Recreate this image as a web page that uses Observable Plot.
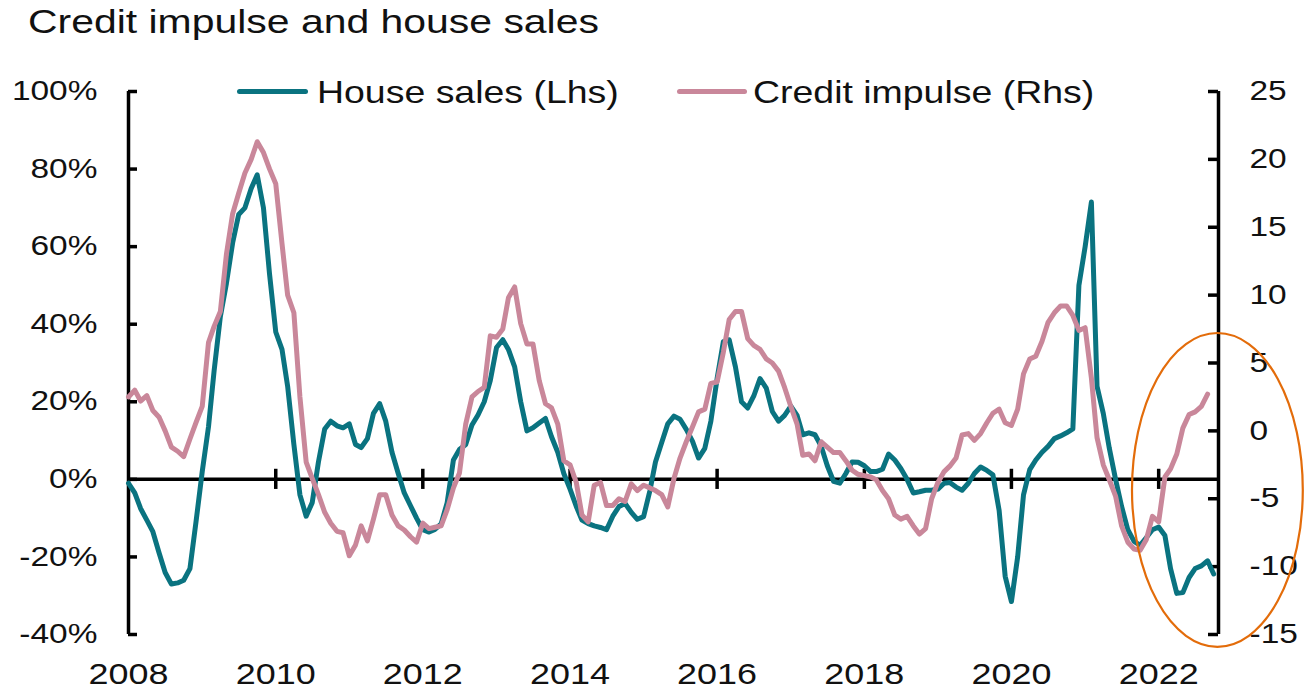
<!DOCTYPE html>
<html>
<head>
<meta charset="utf-8">
<script src="https://cdn.jsdelivr.net/npm/d3@7"></script>
<script src="https://cdn.jsdelivr.net/npm/@observablehq/plot@0.6"></script>
<style>
  body { margin: 0; background: #fff; }
  #wrap { position: relative; width: 1305px; height: 691px; overflow: hidden; font-family: "Liberation Sans", Arial, sans-serif; color: #111; }
  #title { position: absolute; left: 28px; top: 5px; font-size: 33px; line-height: 1; white-space: nowrap; transform: scaleX(1.24); transform-origin: 0 0; }
  #chart { position: absolute; left: 0; top: 45px; }
  .sw { position: absolute; height: 5px; border-radius: 3px; }
  .lt { position: absolute; font-size: 32px; line-height: 1; white-space: nowrap; transform: scaleX(1.17); transform-origin: 0 0; }
</style>
</head>
<body>
<div id="wrap">
  <div id="title">Credit impulse and house sales</div>
  <div id="chart"></div>
  <div class="sw" id="sw1" style="left:237px; top:89px; width:71px;"></div>
  <div class="lt" id="lt1" style="left:317px; top:76px;"></div>
  <div class="sw" id="sw2" style="left:677px; top:89px; width:70px;"></div>
  <div class="lt" id="lt2" style="left:753px; top:76px;"></div>
</div>
<script>
// ---- data (monthly, from Jan 2008) ----
const startYear = 2008;
const seriesNames = ["House sales (Lhs)", "Credit impulse (Rhs)"];
const seriesColors = ["#0a7380", "#c9879a"];

// House sales, % (left axis)
const houseSales = [
  -1,-3.5,-7.5,-10.5,-13.5,-19,-24,-27,-26.7,-26,
  -23,-11,2,13.5,28,42,50.5,61,68.3,70,
  75,78.5,70,53,38,33.5,24,9,-4,-9.5,
  -6,4.5,13,15,13.8,13.3,14.3,9,8.2,10.5,
  17,19.5,15,7,1.5,-3.5,-6.8,-10,-13,-13.6,
  -12.9,-11.5,-6,5,7.7,9,14,16.6,20,25.5,
  34,36,33.5,29,20,12.5,13.3,14.5,15.7,11,
  7,1.5,-2.5,-7,-10.5,-11.4,-12,-12.4,-13,-9.5,
  -7,-6.2,-8.5,-10.3,-9.6,-3,4.5,9.5,14.3,16.3,
  15.5,12.9,9.8,5.5,8,15,26,35.5,36,29,
  20,18.4,21.5,26,23.5,17.5,15,16.5,18.9,16.5,
  11.5,12,11.5,8.5,3.5,-0.5,-1,1.5,4.5,4.4,
  3.5,2,2,2.6,6.5,5,2.8,0,-3.5,-3.2,
  -2.8,-2.8,-2.5,-1,-0.8,-2,-2.8,-1,1.5,3.2,
  2.3,1.2,-8,-25,-31.5,-20,-4,2.5,5,7,
  8.5,10.5,11.2,12,13,50,60,71.5,24,17,
  8,0,-7,-13,-16,-17,-15,-13,-12.3,-14.5,
  -23,-29.4,-29.2,-25.3,-23,-22.3,-21,-24.4
];

// Credit impulse (right axis units)
const creditImpulse = [
  2.5,3.0,2.2,2.6,1.5,1.0,0,-1.2,-1.5,-1.9,
  -0.6,0.6,1.8,6.5,7.7,8.8,13,16,17.5,19,
  20,21.3,20.5,19.3,18.2,13.8,10,8.7,2.5,-2.3,
  -3.5,-4.7,-6,-6.8,-7.4,-7.5,-9.2,-8.4,-7,-8.1,
  -6.5,-4.7,-4.7,-6.2,-7,-7.3,-7.8,-8.2,-6.8,-7.2,
  -7.1,-7,-5.8,-4.2,-3.1,0.5,2.5,2.9,3.2,7,
  6.9,7.5,9.8,10.6,7.9,6.4,6.4,3.7,2,1.7,
  0.5,-2.2,-2.5,-3.8,-6.2,-6.7,-4,-3.8,-5.5,-5.5,
  -5,-5.2,-3.9,-4.4,-4,-4.2,-4.4,-4.7,-5.6,-3.5,
  -2,-0.8,0.3,1.4,1.6,3.5,3.6,5.8,8.2,8.8,
  8.8,6.8,6.3,6,5.3,5,4.4,3.2,1.8,0.5,
  -1.8,-1.7,-2.2,-0.8,-1.2,-1.6,-1.6,-2.2,-2.9,-3.2,
  -3.3,-3.4,-3.6,-4.4,-5,-6.2,-6.5,-6.3,-7,-7.6,
  -7.2,-5,-3.8,-3,-2.6,-2,-0.3,-0.2,-0.7,-0.2,
  0.6,1.3,1.6,0.6,0.4,1.6,4.2,5.3,5.5,6.6,
  8,8.7,9.2,9.2,8.5,7.4,7.6,3.9,-0.5,-2.5,
  -3.6,-4.8,-7,-8.2,-8.7,-8.8,-8,-6.3,-6.7,-3.4,
  -2.8,-1.7,0.2,1.2,1.4,1.8,2.7
];

// axes
const leftTicks = [-40, -20, 0, 20, 40, 60, 80, 100];
const rightTicks = [-15, -10, -5, 0, 5, 10, 15, 20, 25];
const yearTicks = [2008, 2010, 2012, 2014, 2016, 2018, 2020, 2022];
const xStart = new Date(Date.UTC(2008, 0, 1));
const xEnd = new Date(Date.UTC(2022, 9, 25));
const leftDomain = [-40, 100];
const rightDomain = [-15, 25];
// highlight ellipse (bounding box in data units)
const highlight = { x1: new Date(Date.UTC(2021, 7, 24)), x2: new Date(Date.UTC(2023, 11, 20)), y1: -43.3, y2: 37.6 };

// ---- build ----
const toLeft = r => leftDomain[0] + (r - rightDomain[0]) * (leftDomain[1] - leftDomain[0]) / (rightDomain[1] - rightDomain[0]);
const toRight = l => rightDomain[0] + (l - leftDomain[0]) * (rightDomain[1] - rightDomain[0]) / (leftDomain[1] - leftDomain[0]);
const monthDate = i => new Date(Date.UTC(startYear, i, 1));
const houseData = houseSales.map((v, i) => ({ date: monthDate(i), v }));
const creditData = creditImpulse.map((v, i) => ({ date: monthDate(i), v: toLeft(v) }));
const yearDates = yearTicks.map(y => new Date(Date.UTC(y, 0, 1)));
const innerYears = yearDates.filter(d => d > xStart);

const W = 1305, H = 646, mL = 128, mR = 87, mT = 46, mB = 57;
const frameW = W - mL - mR;
const axisW = 3.5;

const plot = Plot.plot({
  width: W, height: H,
  marginTop: mT, marginBottom: mB, marginLeft: mL, marginRight: mR,
  style: { fontFamily: "'Liberation Sans', Arial, sans-serif", background: "white", color: "#111", overflow: "visible" },
  x: { type: "utc", domain: [xStart, xEnd], label: null },
  y: { domain: leftDomain, label: null },
  marks: [
    Plot.ruleY([0], { stroke: "#000", strokeWidth: axisW }),
    Plot.ruleX([xStart], { stroke: "#000", strokeWidth: axisW }),
    Plot.ruleX([xEnd], { stroke: "#000", strokeWidth: axisW }),
    Plot.ruleX(innerYears, { x: d => d, y1: -2.6, y2: 2.6, stroke: "#000", strokeWidth: axisW }),
    Plot.tickY(leftTicks, { y: d => d, insetRight: frameW - 9, stroke: "#000", strokeWidth: axisW }),
    Plot.tickY(rightTicks.map(toLeft), { y: d => d, insetLeft: frameW - 10, stroke: "#000", strokeWidth: axisW }),
    Plot.axisY({ anchor: "left", label: null, ticks: leftTicks, tickSize: 0, tickPadding: 31, tickFormat: d => `${d}%`, fontSize: 27, fill: "#111" }),
    Plot.axisY({ anchor: "right", label: null, ticks: rightTicks.map(toLeft), tickSize: 0, tickPadding: 31, tickFormat: d => String(Math.round(toRight(d))), fontSize: 27, fill: "#111" }),
    Plot.axisX({ anchor: "bottom", label: null, ticks: yearDates, tickSize: 0, tickPadding: 29, tickFormat: d => String(d.getUTCFullYear()), fontSize: 29, fill: "#111" }),
    Plot.line(houseData, { x: "date", y: "v", stroke: seriesColors[0], strokeWidth: 5, strokeLinejoin: "round" }),
    Plot.line(creditData, { x: "date", y: "v", stroke: seriesColors[1], strokeWidth: 5, strokeLinejoin: "round" })
  ]
});

// highlight ellipse using the plot's own scales
const xs = plot.scale("x"), ys = plot.scale("y");
const ex1 = xs.apply(highlight.x1), ex2 = xs.apply(highlight.x2);
const ey1 = ys.apply(highlight.y1), ey2 = ys.apply(highlight.y2);
const ell = document.createElementNS("http://www.w3.org/2000/svg", "ellipse");
ell.setAttribute("cx", (ex1 + ex2) / 2);
ell.setAttribute("cy", (ey1 + ey2) / 2);
ell.setAttribute("rx", Math.abs(ex2 - ex1) / 2);
ell.setAttribute("ry", Math.abs(ey2 - ey1) / 2);
ell.setAttribute("fill", "none");
ell.setAttribute("stroke", "#e36c0a");
ell.setAttribute("stroke-width", 2.2);
plot.appendChild(ell);

document.getElementById("chart").appendChild(plot);

// stretch axis texts horizontally (around their anchor) like the reference
const sx = 1.24;
for (const t of plot.querySelectorAll("text")) {
  const b = t.getBBox();
  const anchor = getComputedStyle(t).textAnchor;
  const ax = anchor === "end" ? b.x + b.width : anchor === "middle" ? b.x + b.width / 2 : b.x;
  const tr = t.getAttribute("transform") || "";
  t.setAttribute("transform", `${tr} translate(${ax},0) scale(${sx},1) translate(${-ax},0)`);
}

// legend
document.getElementById("sw1").style.background = seriesColors[0];
document.getElementById("sw2").style.background = seriesColors[1];
document.getElementById("lt1").textContent = seriesNames[0];
document.getElementById("lt2").textContent = seriesNames[1];
</script>
</body>
</html>
